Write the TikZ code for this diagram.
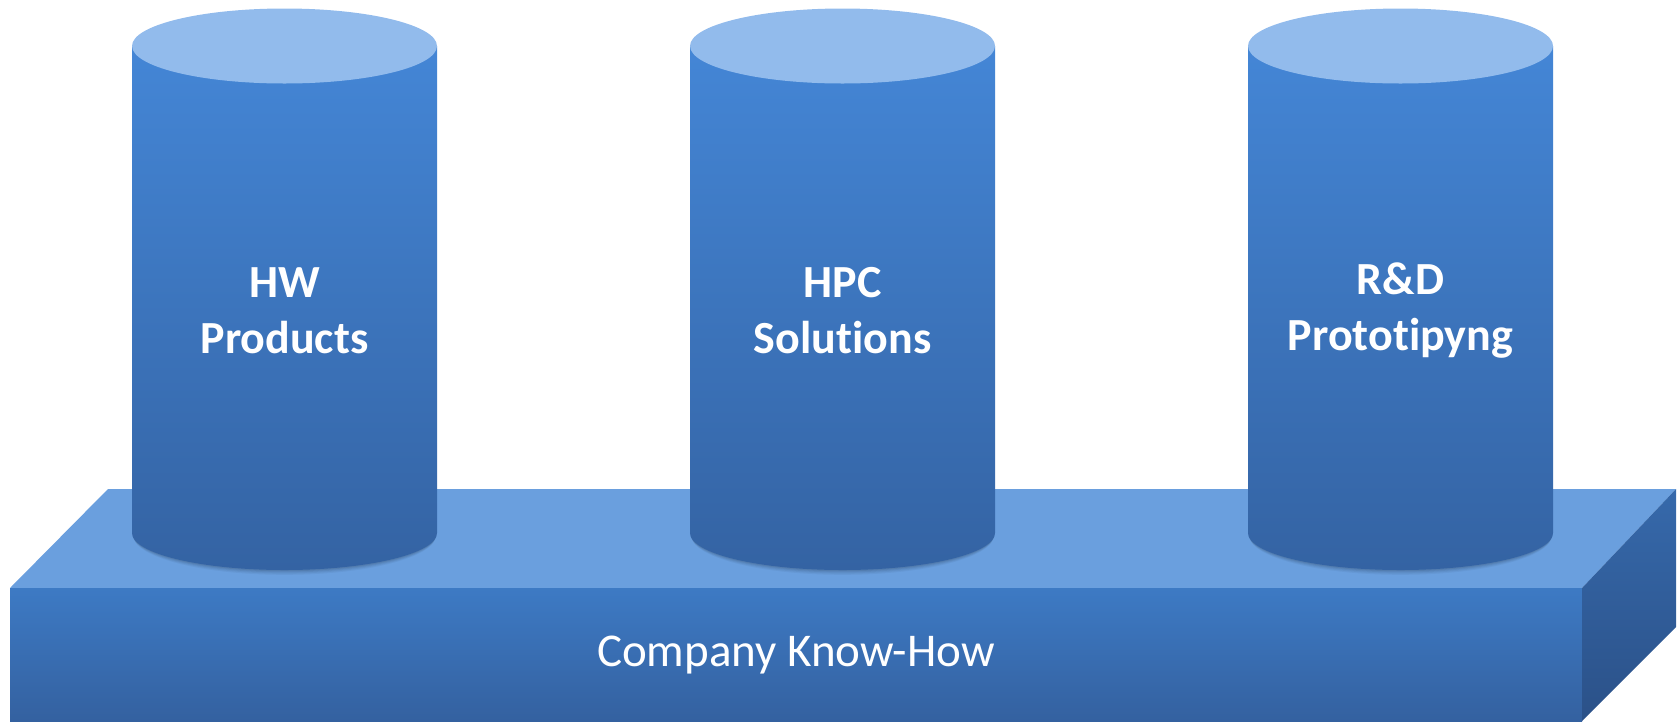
\documentclass[tikz,border=0pt]{standalone}
\usepackage{fontspec}
\setmainfont[Ligatures=NoCommon]{Carlito}
\usetikzlibrary{shadings}
\definecolor{captop}{HTML}{92BBEC}
\definecolor{bodytop}{HTML}{4486D6}
\definecolor{bodybot}{HTML}{3463A3}
\definecolor{basetop}{HTML}{6A9FDE}
\definecolor{frontA}{HTML}{3D7AC4}
\definecolor{frontB}{HTML}{3461A0}
\definecolor{sideA}{HTML}{3669AB}
\definecolor{sideB}{HTML}{2B5188}
\tikzset{
  lbl/.style={text=white, align=center, font=\bfseries\fontsize{46}{56}\selectfont},
  baselbl/.style={text=white, font=\fontsize{47}{56}\selectfont},
}
\newcommand{\mycyl}[1]{%
  % soft shadow
  \foreach \s/\o in {4/0.04, 3/0.05, 2/0.06, 1/0.07}{
    \fill[black, opacity=\o] (#1-152.5+\s*0.3,46) -- (#1-152.5+\s*0.3,533+\s*0.6) arc[start angle=180, end angle=0, x radius=152.5-\s*0.3, y radius=37+\s*0.6] -- cycle;
  }
  % body
  \shade[top color=bodytop, bottom color=bodybot] (#1-152.5,46) -- (#1-152.5,533) arc[start angle=180, end angle=0, x radius=152.5, y radius=37] -- (#1+152.5,46) -- cycle;
  % cap
  \fill[captop] (#1,46) ellipse[x radius=152.5, y radius=37.5];
}
\begin{document}
\begin{tikzpicture}[x=1pt, y=-1pt]
\useasboundingbox (0,0) rectangle (1680,721);
% base
\fill[basetop] (10,588) -- (108,489) -- (1676,489) -- (1582,588) -- cycle;
\shade[top color=frontA, bottom color=frontB] (10,588) rectangle (1582,721);
\shade[top color=sideA, bottom color=sideB] (1582,588) -- (1676,489) -- (1676,627) -- (1582,721) -- cycle;
% cylinders
\mycyl{284.5}
\mycyl{842.5}
\mycyl{1400.5}
\node[lbl] (t1) at (284.5,311) {HW\\Products};
\node[lbl] (t2) at (842.5,311) {HPC\\Solutions};
\node[lbl] (t3) at (1400.5,311) {R\&D\\Prototipyng};
\node[baselbl] (base) at (796,655) {Company Know-How};
\end{tikzpicture}
\end{document}
